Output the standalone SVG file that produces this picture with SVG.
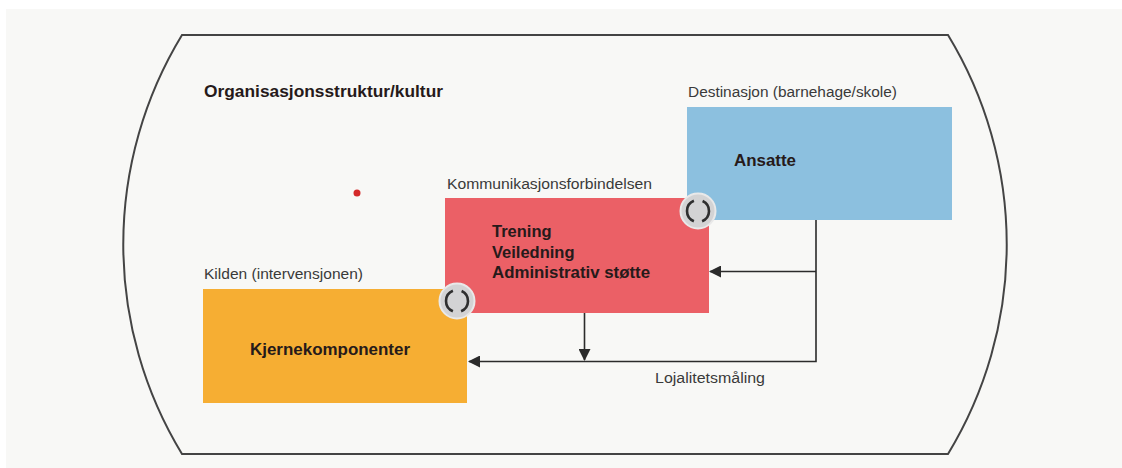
<svg xmlns="http://www.w3.org/2000/svg" width="1122" height="468" viewBox="0 0 1122 468">
<defs>
<marker id="arr" viewBox="0 0 12 12" refX="11" refY="6" markerWidth="12" markerHeight="12" markerUnits="userSpaceOnUse" orient="auto">
<path d="M0,0 L12,6 L0,12 Z" fill="#2b2b2b"/>
</marker>
<g id="cycle">
<circle r="17.5" fill="#d3d3d4" stroke="#e9e9e9" stroke-width="2"/>
<path d="M-4.1,-10.2 A11,11 0 0 0 -4.1,10.2" fill="none" stroke="#2f2f2f" stroke-width="2.6"/>
<path d="M4.6,-10 A11,11 0 0 1 4.1,10.2" fill="none" stroke="#2f2f2f" stroke-width="2.6"/>
</g>
</defs>
<style>
.lbl{font-family:"Liberation Sans",Arial,sans-serif;font-size:14px;fill:#3a3a3a}
.bold{font-family:"Liberation Sans",Arial,sans-serif;font-size:16.5px;font-weight:bold;fill:#261a1a}
.conn{stroke:#2b2b2b;stroke-width:1.6;fill:none}
</style>
<rect width="1122" height="468" fill="#ffffff"/>
<rect x="6" y="9" width="1116" height="459" fill="#f8f8f6"/>
<g id="frame">
<path d="M182,35 L948,35 A403,403 0 0 1 948,454 L182,454 A403,403 0 0 1 182,35 Z" fill="#f8f8f6" stroke="#444" stroke-width="2"/>
<text class="bold" x="204" y="97" textLength="239" lengthAdjust="spacingAndGlyphs">Organisasjonsstruktur/kultur</text>
<circle cx="357" cy="193" r="3.5" fill="#d42a2a"/>
</g>
<g id="connectors">
<path class="conn" d="M816,220 L816,361.5 L469,361.5" marker-end="url(#arr)"/>
<path class="conn" d="M816,271.5 L710,271.5" marker-end="url(#arr)"/>
<path class="conn" d="M584.5,313 L584.5,360" marker-end="url(#arr)"/>
</g>
<g id="destinasjon">
<text class="lbl" x="688" y="97" textLength="209" lengthAdjust="spacingAndGlyphs">Destinasjon (barnehage/skole)</text>
<rect x="687" y="107" width="265" height="113" fill="#8cc0df"/>
<text class="bold" x="734" y="166" textLength="62" lengthAdjust="spacingAndGlyphs">Ansatte</text>
</g>
<g id="kommunikasjon">
<text class="lbl" x="447" y="189" textLength="205" lengthAdjust="spacingAndGlyphs">Kommunikasjonsforbindelsen</text>
<rect x="445" y="198" width="264" height="115" fill="#eb6066"/>
<text class="bold" x="492" y="237">Trening</text>
<text class="bold" x="492" y="257.5">Veiledning</text>
<text class="bold" x="492" y="278" textLength="158" lengthAdjust="spacingAndGlyphs">Administrativ støtte</text>
</g>
<g id="kilden">
<text class="lbl" x="204" y="279" textLength="159" lengthAdjust="spacingAndGlyphs">Kilden (intervensjonen)</text>
<rect x="203" y="289" width="264" height="114" fill="#f6ae33"/>
<text class="bold" x="250" y="355" textLength="160" lengthAdjust="spacingAndGlyphs">Kjernekomponenter</text>
</g>
<g id="link-top">
<use href="#cycle" x="698" y="211"/>
</g>
<g id="link-bottom">
<use href="#cycle" x="457" y="301"/>
</g>
<g id="lojalitet">
<text class="lbl" x="655" y="383" textLength="110" lengthAdjust="spacingAndGlyphs">Lojalitetsmåling</text>
</g>
</svg>
